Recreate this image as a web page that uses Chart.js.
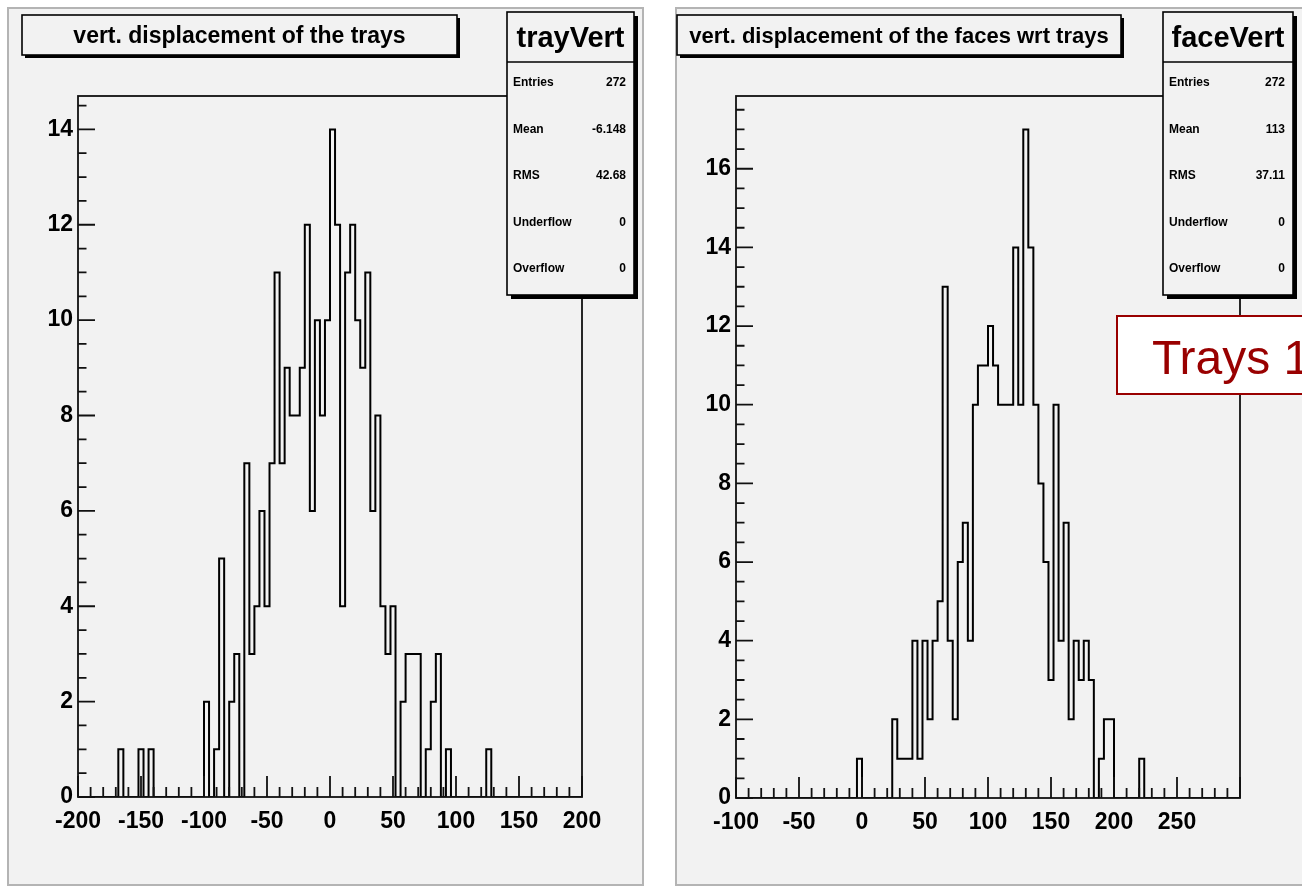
<!DOCTYPE html>
<html>
<head>
<meta charset="UTF-8">
<title>trayVert / faceVert</title>
<script src="https://cdn.jsdelivr.net/npm/chart.js"></script>
<style>
  body { margin: 0; background: #fff; width: 1302px; height: 891px; overflow: hidden; position: relative; }
  canvas { position: absolute; top: 0; }
  #trayChart { left: 0; }
  #faceChart { left: 651px; }
</style>
</head>
<body>
<canvas id="trayChart" width="651" height="891"></canvas>
<canvas id="faceChart" width="651" height="891"></canvas>
<script>
// 100 bins of width 4 in both histograms
const binWidth = 4;

const trayCounts = [
  0, 0, 0, 0, 0, 0, 0, 0, 1, 0,
  0, 0, 1, 0, 1, 0, 0, 0, 0, 0,
  0, 0, 0, 0, 0, 2, 0, 1, 5, 0,
  2, 3, 0, 7, 3, 4, 6, 4, 7, 11,
  7, 9, 8, 8, 9, 12, 6, 10, 8, 10,
  14, 12, 4, 11, 12, 10, 9, 11, 6, 8,
  4, 3, 4, 0, 2, 3, 3, 3, 0, 1,
  2, 3, 0, 1, 0, 0, 0, 0, 0, 0,
  0, 1, 0, 0, 0, 0, 0, 0, 0, 0,
  0, 0, 0, 0, 0, 0, 0, 0, 0, 0
];

const faceCounts = [
  0, 0, 0, 0, 0, 0, 0, 0, 0, 0,
  0, 0, 0, 0, 0, 0, 0, 0, 0, 0,
  0, 0, 0, 0, 1, 0, 0, 0, 0, 0,
  0, 2, 1, 1, 1, 4, 1, 4, 2, 4,
  5, 13, 4, 2, 6, 7, 4, 10, 11, 11,
  12, 11, 10, 10, 10, 14, 10, 17, 14, 10,
  8, 6, 3, 10, 4, 7, 2, 4, 3, 4,
  3, 0, 1, 2, 2, 0, 0, 0, 0, 0,
  1, 0, 0, 0, 0, 0, 0, 0, 0, 0,
  0, 0, 0, 0, 0, 0, 0, 0, 0, 0
];

const trayXTicks = [-200, -150, -100, -50, 0, 50, 100, 150, 200];
const faceXTicks = [-100, -50, 0, 50, 100, 150, 200, 250];
const trayYTicks = [0, 2, 4, 6, 8, 10, 12, 14];
const faceYTicks = [0, 2, 4, 6, 8, 10, 12, 14, 16];

const trayStats = [['Entries', '272'], ['Mean', '-6.148'], ['RMS', '42.68'], ['Underflow', '0'], ['Overflow', '0']];
const faceStats = [['Entries', '272'], ['Mean', '113'], ['RMS', '37.11'], ['Underflow', '0'], ['Overflow', '0']];

const FONT = "'Liberation Sans', Arial, Helvetica, sans-serif";
const PAD_BG = '#f2f2f2';

function histPoints(counts, xmin) {
  const pts = counts.map((c, i) => ({ x: xmin + i * binWidth, y: c }));
  pts.push({ x: xmin + counts.length * binWidth, y: 0 });
  return pts;
}

function shadowBox(ctx, x, y, w, h, sh) {
  ctx.fillStyle = '#000';
  ctx.fillRect(x + sh, y + sh, w, h);
  ctx.fillStyle = PAD_BG;
  ctx.fillRect(x, y, w, h);
  ctx.strokeStyle = '#000';
  ctx.lineWidth = 1.6;
  ctx.strokeRect(x, y, w, h);
}

function makeHist(id, o) {
  const W = 651, H = 891;
  const rootPlugin = {
    id: 'rootLook',
    beforeDraw(chart) {
      const ctx = chart.ctx;
      ctx.save();
      ctx.fillStyle = '#fff';
      ctx.fillRect(0, 0, W, H);
      ctx.fillStyle = PAD_BG;
      ctx.fillRect(o.pad[0], o.pad[1], o.pad[2], o.pad[3]);
      ctx.strokeStyle = '#b4b4b4';
      ctx.lineWidth = 2;
      ctx.strokeRect(o.pad[0], o.pad[1], o.pad[2], o.pad[3]);
      ctx.restore();
    },
    afterDatasetsDraw(chart) {
      const ctx = chart.ctx;
      const a = chart.chartArea;
      const xs = chart.scales.x, ys = chart.scales.y;
      ctx.save();
      ctx.strokeStyle = '#111';
      ctx.lineWidth = 1.8;
      ctx.strokeRect(a.left, a.top, a.right - a.left, a.bottom - a.top);
      ctx.beginPath();
      for (let v = o.xmin; v <= o.xmax; v += 10) {
        const px = xs.getPixelForValue(v);
        const len = (v % 50 === 0) ? 21 : 10;
        ctx.moveTo(px, a.bottom);
        ctx.lineTo(px, a.bottom - len);
      }
      for (let v = 0; v <= o.ymax; v += 0.5) {
        const py = ys.getPixelForValue(v);
        const len = (v % 2 === 0) ? 17 : 8.5;
        ctx.moveTo(a.left, py);
        ctx.lineTo(a.left + len, py);
      }
      ctx.stroke();
      ctx.restore();
    },
    afterDraw(chart) {
      const ctx = chart.ctx;
      ctx.save();
      // title box
      const t = o.titleBox;
      shadowBox(ctx, t[0], t[1], t[2], t[3], 3);
      ctx.fillStyle = '#000';
      ctx.font = 'bold ' + o.titleSize + 'px ' + FONT;
      ctx.textAlign = 'center';
      ctx.textBaseline = 'middle';
      ctx.fillText(o.title, t[0] + t[2] / 2, t[1] + t[3] / 2 + 2);
      // stats box
      const s = o.statsBox;
      shadowBox(ctx, s[0], s[1], s[2], s[3], 4);
      ctx.beginPath();
      ctx.moveTo(s[0], s[1] + 50);
      ctx.lineTo(s[0] + s[2], s[1] + 50);
      ctx.stroke();
      ctx.fillStyle = '#000';
      ctx.font = 'bold 29px ' + FONT;
      ctx.textAlign = 'center';
      ctx.fillText(o.name, s[0] + s[2] / 2, s[1] + 27);
      ctx.font = 'bold 12px ' + FONT;
      o.stats.forEach((row, i) => {
        const y = s[1] + 71 + i * 46.5;
        ctx.textAlign = 'left';
        ctx.fillText(row[0], s[0] + 6, y);
        ctx.textAlign = 'right';
        ctx.fillText(row[1], s[0] + s[2] - 8, y);
      });
      // extra label
      if (o.label) {
        const l = o.label;
        ctx.fillStyle = '#fff';
        ctx.fillRect(l.box[0], l.box[1], l.box[2], l.box[3]);
        ctx.strokeStyle = '#990000';
        ctx.lineWidth = 2;
        ctx.strokeRect(l.box[0], l.box[1], l.box[2], l.box[3]);
        ctx.fillStyle = '#990000';
        ctx.font = '48px ' + FONT;
        ctx.textAlign = 'left';
        ctx.textBaseline = 'alphabetic';
        ctx.fillText(l.text, l.box[0] + 35, l.box[1] + 58);
      }
      ctx.restore();
    }
  };

  const tickFont = { family: FONT, size: 23, weight: 'bold' };
  return new Chart(document.getElementById(id), {
    type: 'line',
    data: {
      datasets: [{
        data: histPoints(o.counts, o.xmin),
        stepped: true,
        borderColor: '#000',
        borderWidth: 2,
        pointRadius: 0,
        fill: false,
        tension: 0
      }]
    },
    options: {
      responsive: false,
      animation: false,
      events: [],
      layout: {
        padding: { left: 0, top: o.frame[1], right: W - o.frame[2], bottom: H - o.frame[3] - 40 }
      },
      plugins: { legend: { display: false }, tooltip: { enabled: false } },
      scales: {
        x: {
          type: 'linear',
          min: o.xmin,
          max: o.xmax,
          afterBuildTicks: sc => { sc.ticks = o.xTicks.map(v => ({ value: v })); },
          afterFit: sc => { sc.height = 40; },
          grid: { display: false, drawTicks: false },
          border: { display: false },
          ticks: { font: tickFont, color: '#000', padding: 11, maxRotation: 0, autoSkip: false }
        },
        y: {
          min: 0,
          max: o.ymax,
          afterBuildTicks: sc => { sc.ticks = o.yTicks.map(v => ({ value: v })); },
          afterFit: sc => { sc.width = o.frame[0]; },
          grid: { display: false, drawTicks: false },
          border: { display: false },
          ticks: { font: tickFont, color: '#000', padding: 5, autoSkip: false }
        }
      }
    },
    plugins: [rootPlugin]
  });
}

makeHist('trayChart', {
  counts: trayCounts, xmin: -200, xmax: 200, ymax: 14.7,
  xTicks: trayXTicks, yTicks: trayYTicks,
  frame: [78, 96, 582, 797],
  pad: [8, 8, 635, 877],
  titleBox: [22, 15, 435, 40],
  titleSize: 23,
  statsBox: [507, 12, 127, 283],
  title: 'vert. displacement of the trays',
  name: 'trayVert', stats: trayStats
});

makeHist('faceChart', {
  counts: faceCounts, xmin: -100, xmax: 300, ymax: 17.85,
  xTicks: faceXTicks, yTicks: faceYTicks,
  frame: [85, 96, 589, 798],
  pad: [25, 8, 640, 877],
  titleBox: [26, 15, 444, 40],
  titleSize: 22,
  statsBox: [512, 12, 130, 283],
  title: 'vert. displacement of the faces wrt trays',
  name: 'faceVert', stats: faceStats,
  label: { box: [466, 316, 200, 78], text: 'Trays 1' }
});
</script>
</body>
</html>
